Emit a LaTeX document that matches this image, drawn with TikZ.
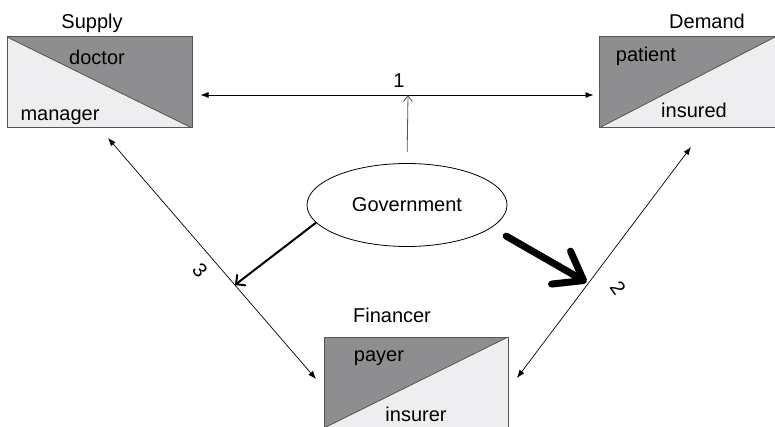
\documentclass[tikz,border=0pt]{standalone}
\usepackage{fontspec}
\setmainfont{Liberation Sans}
\usepackage{tikz}
\usetikzlibrary{arrows.meta, positioning, calc, shapes.geometric}

\definecolor{darkpart}{RGB}{142,142,145}
\definecolor{lightpart}{RGB}{238,238,240}
\definecolor{edgegray}{RGB}{85,85,85}

\begin{document}
\begin{tikzpicture}[x=1pt,y=-1pt,
	every node/.style={font=\fontsize{20}{24}\selectfont, inner sep=0pt},
	rolebox/.style={draw=edgegray, line width=1pt, fill=lightpart, minimum width=185pt, minimum height=91pt},
	darkright/.style={rolebox, path picture={
		\fill[darkpart] (path picture bounding box.north west) -- (path picture bounding box.north east) -- (path picture bounding box.south east) -- cycle;
		\draw[line width=0.8pt] (path picture bounding box.north west) -- (path picture bounding box.south east);}},
	darkleft/.style={rolebox, path picture={
		\fill[darkpart] (path picture bounding box.north west) -- (path picture bounding box.north east) -- (path picture bounding box.south west) -- cycle;
		\draw[line width=0.8pt] (path picture bounding box.south west) -- (path picture bounding box.north east);}},
	link/.style={line width=0.7pt, {Latex[length=8pt,width=6pt]}-{Latex[length=8pt,width=6pt]}},
	rise/.style={draw=edgegray, line width=0.8pt, -{Straight Barb[length=6pt,width=9pt]}},
	pull/.style={line width=2pt, -{Straight Barb[length=7pt,width=14pt]}},
	shove/.style={line width=7pt, line cap=round, -{Straight Barb[length=26pt,width=38pt,round]}}
	]
	\useasboundingbox (0,0) rectangle (775,427);

	% the three parties
	\node[darkright] (supply) at (99.5,82.5) {};
	\node[darkleft, minimum width=176pt] (demand) at (687,82.5) {};
	\node[darkleft, minimum width=184pt] (financer) at (416,382.5) {};

	\node[anchor=base] (supplytag) at (92,29) {Supply};
	\node[anchor=base] (doctor) at (97,64.5) {doctor};
	\node[anchor=base] (manager) at (60,121) {manager};
	\node[anchor=base] (demandtag) at (707,29) {Demand};
	\node[anchor=base] (patient) at (646,62) {patient};
	\node[anchor=base] (insured) at (694,117.5) {insured};
	\node[anchor=base] (financertag) at (392,322) {Financer};
	\node[anchor=base] (payer) at (379,361) {payer};
	\node[anchor=base] (insurer) at (416,421) {insurer};

	\node[ellipse, draw, line width=0.8pt, minimum width=200pt, minimum height=83pt] (gov) at (407,205) {Government};

	% relations
	\coordinate (mid1) at (408,95);
	\coordinate (top3) at (108,138);
	\coordinate (low3) at (316,379);
	\coordinate (top2) at (691,147);
	\coordinate (low2) at (517,378);
	\coordinate (hit3) at ($(top3)!0.61!(low3)$);
	\coordinate (hit2) at ($(top2)!0.59!(low2)$);

	\draw[link, shorten <=8pt, shorten >=5pt] (supply.east |- mid1) -- (demand.west |- mid1);
	\draw[link] (top3) -- (low3);
	\draw[link] (top2) -- (low2);
	\draw[rise, shorten <=11pt] (gov.north) -- (mid1);
	\draw[pull] (gov.191) -- (hit3);
	\draw[shove, shorten <=17pt, shorten >=2pt] (gov.-15) -- (hit2);

	\node[anchor=base] (one) at (399,88) {1};
	\node[rotate=-50] (three) at (200,270) {3};
	\node[rotate=-55] (two) at (618,288) {2};
\end{tikzpicture}
\end{document}
